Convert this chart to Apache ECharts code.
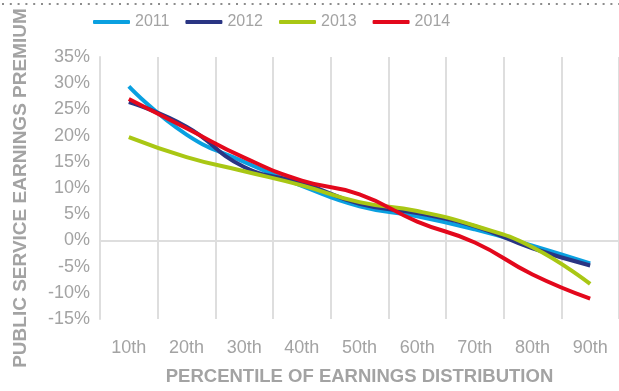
<!DOCTYPE html>
<html>
<head>
<meta charset="utf-8">
<script src="https://cdn.jsdelivr.net/npm/echarts@6/dist/echarts.min.js"></script>
<style>
  html, body { margin: 0; padding: 0; background: #ffffff; }
  #chart { width: 619px; height: 391px; }
</style>
</head>
<body>
<div id="chart"></div>
<script>
var categories = ['10th', '20th', '30th', '40th', '50th', '60th', '70th', '80th', '90th'];
var seriesNames = ['2011', '2012', '2013', '2014'];
var values2011 = [29.4, 20.2, 15.0, 10.4, 6.5, 4.6, 2.1, -1.0, -4.4];
var values2012 = [26.4, 21.7, 14.0, 11.0, 7.0, 5.2, 2.7, -1.5, -4.8];
var values2013 = [19.7, 15.9, 13.2, 10.5, 7.3, 5.6, 2.8, -1.3, -8.3];
var values2014 = [27.0, 21.4, 15.8, 11.4, 8.8, 3.6, -0.4, -6.5, -11.1];
var yTicks = [-15, -10, -5, 0, 5, 10, 15, 20, 25, 30, 35];
var colors = ['#0aa0e0', '#2a3583', '#a9c714', '#e3081c'];

var allValues = [values2011, values2012, values2013, values2014];
var fontFamily = "'Liberation Sans', Arial, Helvetica, sans-serif";
var textGray = '#a3a3a3';
var gridGray = '#dedede';

var splitColors = yTicks.map(function (t) { return t === 0 ? gridGray : 'rgba(0,0,0,0)'; });

var chart = echarts.init(document.getElementById('chart'), null, { renderer: 'canvas' });
chart.setOption({
  animation: false,
  backgroundColor: '#ffffff',
  textStyle: { fontFamily: fontFamily },
  graphic: [{
    type: 'line',
    shape: { x1: 2, y1: 4, x2: 619, y2: 4 },
    style: { stroke: '#8c8c8c', lineWidth: 2, lineDash: [2, 5.8] },
    silent: true
  }],
  legend: {
    top: 14,
    left: 93,
    padding: 0,
    icon: 'roundRect',
    itemWidth: 37,
    itemHeight: 4,
    itemGap: 16,
    textStyle: { color: textGray, fontSize: 16, fontFamily: fontFamily },
    data: seriesNames
  },
  grid: { left: 100, right: -1, top: 57, bottom: 62, containLabel: false },
  xAxis: {
    type: 'category',
    data: categories,
    boundaryGap: true,
    axisLine: { show: false, onZero: false },
    axisTick: { show: false },
    axisLabel: { color: textGray, fontSize: 18, margin: 20, fontFamily: fontFamily },
    splitLine: { show: true, lineStyle: { color: gridGray, width: 2 } },
    name: 'PERCENTILE OF EARNINGS DISTRIBUTION',
    nameLocation: 'middle',
    nameGap: 48,
    nameTextStyle: { color: textGray, fontSize: 18.5, fontWeight: 'bold', fontFamily: fontFamily }
  },
  yAxis: {
    type: 'value',
    min: yTicks[0],
    max: yTicks[yTicks.length - 1],
    interval: 5,
    axisLine: { show: true, lineStyle: { color: gridGray, width: 2 } },
    axisTick: { show: false },
    axisLabel: { color: textGray, fontSize: 18, margin: 10, formatter: '{value}%', fontFamily: fontFamily },
    splitLine: { show: true, lineStyle: { color: splitColors, width: 2 } },
    name: 'PUBLIC SERVICE EARNINGS PREMIUM',
    nameLocation: 'middle',
    nameRotate: 90,
    nameGap: 70,
    nameTextStyle: { color: textGray, fontSize: 19, fontWeight: 'bold', fontFamily: fontFamily }
  },
  series: seriesNames.map(function (name, i) {
    return {
      name: name,
      type: 'line',
      data: allValues[i],
      smooth: 0.5,
      symbol: 'none',
      lineStyle: { width: 4, color: colors[i] },
      itemStyle: { color: colors[i] }
    };
  })
});
</script>
</body>
</html>
